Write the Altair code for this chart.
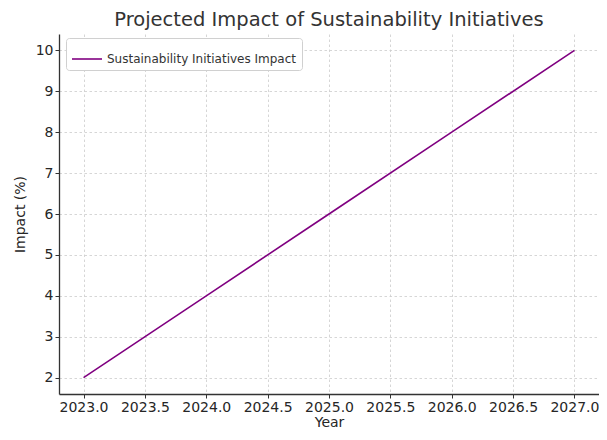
import altair as alt
import pandas as pd

years = [2023, 2024, 2025, 2026, 2027]
impact = [2, 4, 6, 8, 10]
series = ["Sustainability Initiatives Impact"] * len(years)

df = pd.DataFrame({"Year": years, "Impact": impact, "Series": series})

x_ticks = [2023.0, 2023.5, 2024.0, 2024.5, 2025.0, 2025.5, 2026.0, 2026.5, 2027.0]
y_ticks = [2, 3, 4, 5, 6, 7, 8, 9, 10]

FONT = "DejaVu Sans"
TXT = "#262626"

chart = (
    alt.Chart(df)
    .mark_line(strokeWidth=1.6, clip=True)
    .encode(
        x=alt.X(
            "Year:Q",
            scale=alt.Scale(domain=[2022.8, 2027.2], nice=False, zero=False),
            axis=alt.Axis(values=x_ticks, format=".1f", title="Year"),
        ),
        y=alt.Y(
            "Impact:Q",
            scale=alt.Scale(domain=[1.6, 10.4], nice=False, zero=False),
            axis=alt.Axis(values=y_ticks, format="d", title="Impact (%)"),
        ),
        color=alt.Color(
            "Series:N",
            scale=alt.Scale(range=["#800080"]),
            legend=alt.Legend(
                title=None,
                orient="none",
                legendX=7,
                legendY=4,
                symbolType="stroke",
                symbolSize=900,
                symbolStrokeWidth=1.6,
                labelFont=FONT,
                labelFontSize=12,
                labelColor="#333333",
                labelLimit=0,
                fillColor="white",
                strokeColor="#d0d0d0",
                cornerRadius=3,
                padding=5,
            ),
        ),
    )
    .properties(
        width=540,
        height=360,
        padding={"left": 51, "top": 26, "right": 0, "bottom": 38},
        autosize=alt.AutoSizeParams(type="none"),
        title=alt.Title(
            "Projected Impact of Sustainability Initiatives",
            font=FONT,
            fontSize=19.5,
            fontWeight="normal",
            color="#333333",
            offset=4,
        ),
        background="white",
    )
    .configure_view(stroke=None)
    .configure_axis(
        labelFont=FONT,
        labelFontSize=14,
        labelColor=TXT,
        titleFont=FONT,
        titleFontSize=14,
        titleFontWeight="normal",
        titleColor=TXT,
        domainColor="#333333",
        domainWidth=1.3,
        tickColor="#333333",
        tickSize=4,
        tickWidth=1,
        grid=True,
        gridColor="#cccccc",
        gridDash=[2.5, 2.5],
        gridWidth=0.8,
        labelPadding=2,
    )
    .configure_axisX(titlePadding=1)
    .configure_axisY(titlePadding=8)
)

chart.save("out.html", embed_options={"renderer": "svg", "actions": False})
